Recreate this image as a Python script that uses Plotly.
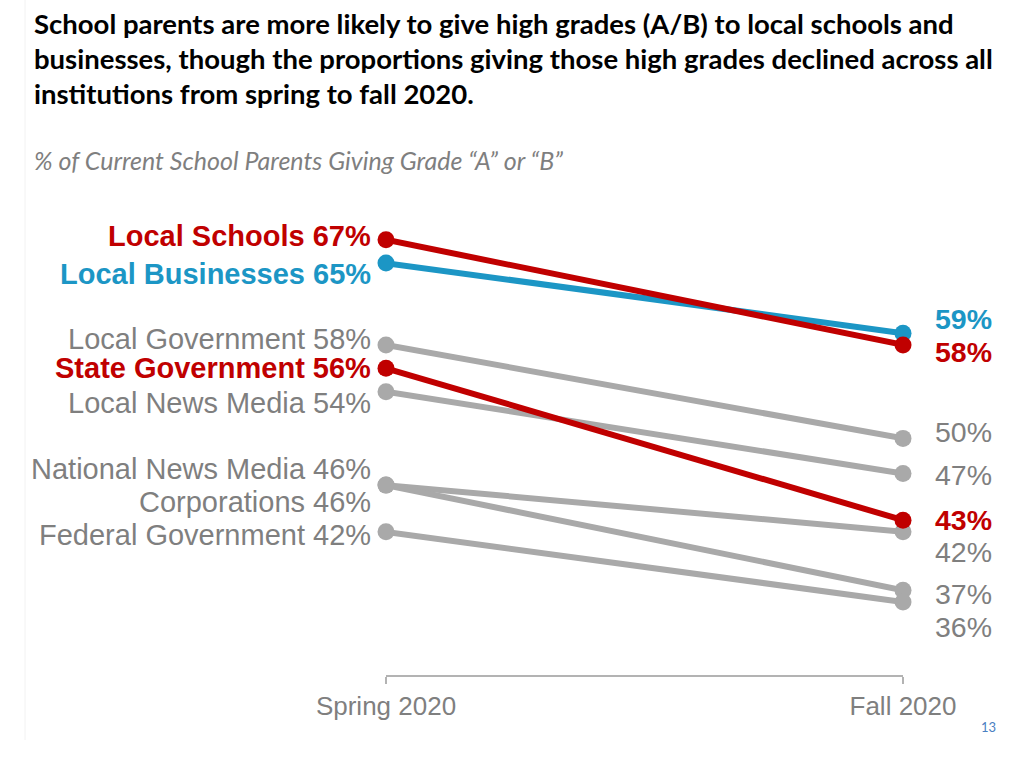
import plotly.graph_objects as go

# ---- data ----
periods = ["Spring 2020", "Fall 2020"]
institutions = ["Local Schools", "Local Businesses", "Local Government", "State Government",
                "Local News Media", "National News Media", "Corporations", "Federal Government"]
spring = [67, 65, 58, 56, 54, 46, 46, 42]
fall = [58, 59, 50, 43, 47, 42, 37, 36]

RED = "#c00000"
BLUE = "#1c96c5"
GRAY_LINE = "#a9a9a9"
GRAY_TEXT = "#7f7f7f"
colors = [RED, BLUE, GRAY_LINE, RED, GRAY_LINE, GRAY_LINE, GRAY_LINE, GRAY_LINE]
text_colors = [RED, BLUE, GRAY_TEXT, RED, GRAY_TEXT, GRAY_TEXT, GRAY_TEXT, GRAY_TEXT]
bold = [True, True, False, True, False, False, False, False]
# label offsets (px) to avoid overlaps
left_shift = [4, -11, 6, 0, -11, 16, -17, -3]
right_shift = {58: -7, 59: 14, 50: 6, 47: -2, 43: 0, 42: -20, 37: -4, 36: -25}

L, R, T, B = 386, 121, 200, 99
W, H = 1024, 774
PH = H - T - B
LABEL_FONT = "Liberation Sans, Arial"

fig = go.Figure()
order = [2, 4, 5, 6, 7, 3, 1, 0]
for i in order:
    fig.add_trace(go.Scatter(
        x=[0, 1], y=[spring[i], fall[i]], mode="lines+markers",
        line=dict(color=colors[i], width=6),
        marker=dict(color=colors[i], size=17),
        cliponaxis=False, showlegend=False, hoverinfo="skip"))

annotations = []
for i, name in enumerate(institutions):
    txt = f"{name} {spring[i]}%"
    if bold[i]:
        txt = f"<b>{txt}</b>"
    annotations.append(dict(x=0, y=spring[i], xref="x", yref="y", text=txt,
                            xanchor="right", yanchor="middle", xshift=-14, yshift=left_shift[i],
                            showarrow=False, borderpad=0,
                            font=dict(family=LABEL_FONT, size=29, color=text_colors[i])))
    rt = f"{fall[i]}%"
    if bold[i]:
        rt = f"<b>{rt}</b>"
    annotations.append(dict(x=1, y=fall[i], xref="x", yref="y", text=rt,
                            xanchor="left", yanchor="middle", xshift=31, yshift=right_shift[fall[i]],
                            showarrow=False, borderpad=0,
                            font=dict(family=LABEL_FONT, size=28.5, color=text_colors[i])))


def py(p):
    return (H - B - p) / PH


def px(p):
    return (p - L) / (W - L - R)


title_lines = ["School parents are more likely to give high grades (A/B) to local schools and",
               "businesses, though the proportions giving those high grades declined across all",
               "institutions from spring to fall 2020."]
for k, line in enumerate(title_lines):
    annotations.append(dict(x=px(32), y=py(23 + 35 * k), xref="paper", yref="paper",
                            text=f"<b>{line}</b>", xanchor="left", yanchor="middle",
                            showarrow=False,
                            font=dict(family="Lato", size=27.5, color="#000000")))
annotations.append(dict(x=px(32), y=py(160), xref="paper", yref="paper",
                        text="<i>% of Current School Parents Giving Grade “A” or “B”</i>",
                        xanchor="left", yanchor="middle", showarrow=False,
                        font=dict(family="Lato", size=25, color=GRAY_TEXT)))
annotations.append(dict(x=px(988), y=py(727), xref="paper", yref="paper", text="13",
                        xanchor="center", yanchor="middle", showarrow=False,
                        font=dict(family="Lato", size=13, color="#4a80c2")))

fig.update_layout(
    width=W, height=H,
    margin=dict(l=L, r=R, t=T, b=B, pad=0),
    paper_bgcolor="white", plot_bgcolor="white",
    annotations=annotations,
    shapes=[dict(type="line", xref="paper", yref="paper", x0=px(25), x1=px(25), y0=py(0), y1=py(740),
                 line=dict(color="#f2f2f2", width=1))],
    xaxis=dict(range=[0, 1], tickvals=[0, 1], ticktext=periods, showgrid=False, zeroline=False,
               showline=True, linecolor="#b3b3b3", linewidth=2, ticks="outside", ticklen=7,
               tickcolor="#b3b3b3", tickwidth=2,
               tickfont=dict(family=LABEL_FONT, size=26, color=GRAY_TEXT)),
    yaxis=dict(range=[29.75, 70.4], visible=False, showgrid=False, zeroline=False),
)

fig.write_html("out.html")
